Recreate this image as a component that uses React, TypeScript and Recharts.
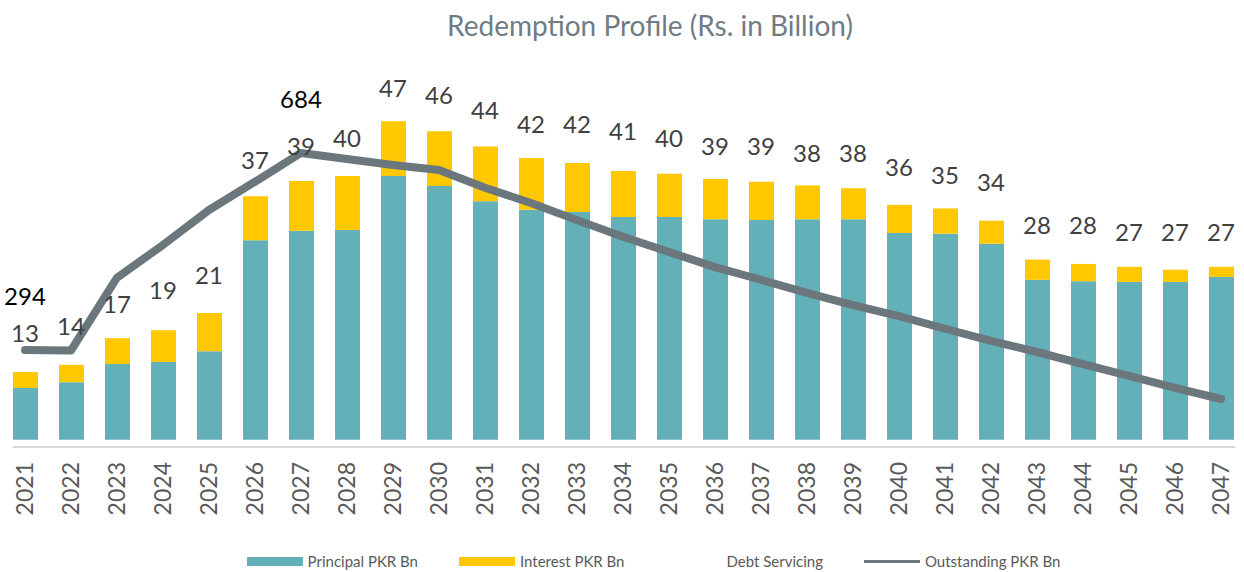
import { Bar, ComposedChart, LabelList, Legend, Line, XAxis, YAxis } from 'recharts'

const years = [
  '2021', '2022', '2023', '2024', '2025', '2026', '2027', '2028', '2029', '2030',
  '2031', '2032', '2033', '2034', '2035', '2036', '2037', '2038', '2039', '2040',
  '2041', '2042', '2043', '2044', '2045', '2046', '2047',
]
const principal = [
  7.2, 8.0, 10.5, 10.8, 12.3, 27.7, 29.0, 29.1, 36.6, 35.2,
  33.1, 31.9, 31.6, 30.9, 30.9, 30.6, 30.5, 30.6, 30.6, 28.7,
  28.6, 27.2, 22.2, 22.0, 21.9, 21.9, 22.6,
]
const interest = [
  2.2, 2.4, 3.6, 4.4, 5.3, 6.1, 6.9, 7.5, 7.6, 7.6,
  7.6, 7.2, 6.8, 6.4, 6.0, 5.6, 5.3, 4.7, 4.3, 3.9,
  3.5, 3.2, 2.8, 2.4, 2.1, 1.7, 1.4,
]
const debtServicing = [
  13, 14, 17, 19, 21, 37, 39, 40, 47, 46,
  44, 42, 42, 41, 40, 39, 39, 38, 38, 36,
  35, 34, 28, 28, 27, 27, 27,
]
const outstanding = [
  294, 293, 437, 502, 571, 627, 684, 672, 660, 650,
  615, 585, 551, 518, 488, 458, 433, 407, 383, 361,
  336, 312, 290, 266, 243, 219, 197,
]

const TEAL = '#64b0b8'
const YELLOW = '#ffc800'
const LINE = '#6b777c'
const FONT = 'Lato, "Open Sans", sans-serif'

const data = years.map((year, i) => ({
  year,
  principal: principal[i],
  interest: interest[i],
  debt: debtServicing[i],
  outstanding: outstanding[i],
}))

const maxOutstanding = Math.max(...outstanding)

const YearTick = ({ x, y, payload }: any) => (
  <g transform={`translate(${x},${y})`}>
    <text
      transform="rotate(-90)"
      x={-15}
      dy="0.35em"
      textAnchor="end"
      fill="#595959"
      fontSize={23}
      fontFamily={FONT}
    >
      {payload.value}
    </text>
  </g>
)

// only the first point and the peak carry a label
const OutstandingLabel = ({ x, y, value, index }: any) => {
  if (index !== 0 && value !== maxOutstanding) return null
  return (
    <text x={x} y={y - 53} dy="0.35em" textAnchor="middle" fill="#000" fontSize={24} fontFamily={FONT}>
      {value}
    </text>
  )
}

const legendItems = [
  { name: 'Principal PKR Bn', kind: 'rect', color: TEAL },
  { name: 'Interest PKR Bn', kind: 'rect', color: YELLOW },
  { name: 'Debt Servicing', kind: 'none', color: 'transparent' },
  { name: 'Outstanding PKR Bn', kind: 'line', color: LINE },
]

const LegendContent = () => (
  <div
    style={{
      display: 'flex',
      justifyContent: 'center',
      alignItems: 'center',
      paddingLeft: 100,
      fontFamily: FONT,
      fontSize: 15,
      color: '#595959',
      height: 22,
    }}
  >
    {legendItems.map((item) => (
      <div key={item.name} style={{ display: 'flex', alignItems: 'center', marginRight: 41 }}>
        <div style={{ width: 56, height: 22, display: 'flex', alignItems: 'center' }}>
          {item.kind === 'rect' && <div style={{ width: 56, height: 9, background: item.color }} />}
          {item.kind === 'line' && <div style={{ width: 56, height: 3, background: item.color }} />}
        </div>
        <span style={{ marginLeft: 5 }}>{item.name}</span>
      </div>
    ))}
  </div>
)

export default function App() {
  return (
    <div style={{ position: 'absolute', left: 0, top: 0, width: 1244, height: 572, background: '#fff' }}>
      <div
        style={{
          position: 'absolute',
          top: 7,
          left: 56,
          width: 1188,
          textAlign: 'center',
          fontFamily: FONT,
          fontSize: 28,
          color: '#6f7c83',
          lineHeight: '36px',
        }}
      >
        Redemption Profile (Rs. in Billion)
      </div>
      <ComposedChart
        width={1244}
        height={572}
        data={data}
        margin={{ top: 65, right: 9, bottom: 0, left: 13 }}
      >
        <XAxis
          dataKey="year"
          interval={0}
          height={103}
          tickLine={false}
          tickSize={0}
          tickMargin={0}
          padding={{ left: -11, right: -9 }}
          axisLine={{ stroke: '#d9d9d9', strokeWidth: 2 }}
          tick={<YearTick />}
        />
        <YAxis yAxisId="left" hide domain={[-1, 52]} />
        <YAxis yAxisId="right" orientation="right" hide domain={[102, 858]} />
        <Bar yAxisId="left" dataKey="principal" name="Principal PKR Bn" stackId="a" fill={TEAL} barSize={25} isAnimationActive={false} />
        <Bar yAxisId="left" dataKey="interest" name="Interest PKR Bn" stackId="a" fill={YELLOW} barSize={25} isAnimationActive={false} />
        <Line
          yAxisId="left"
          dataKey="debt"
          name="Debt Servicing"
          stroke="none"
          dot={false}
          activeDot={false}
          isAnimationActive={false}
        >
          <LabelList dataKey="debt" position="top" offset={4} fill="#404040" fontSize={24} fontFamily={FONT} />
        </Line>
        <Line
          yAxisId="right"
          dataKey="outstanding"
          name="Outstanding PKR Bn"
          type="linear"
          stroke={LINE}
          strokeWidth={8}
          strokeLinecap="round"
          strokeLinejoin="round"
          dot={false}
          activeDot={false}
          isAnimationActive={false}
        >
          <LabelList dataKey="outstanding" content={<OutstandingLabel />} />
        </Line>
        <Legend verticalAlign="bottom" height={22} content={<LegendContent />} />
      </ComposedChart>
    </div>
  )
}
